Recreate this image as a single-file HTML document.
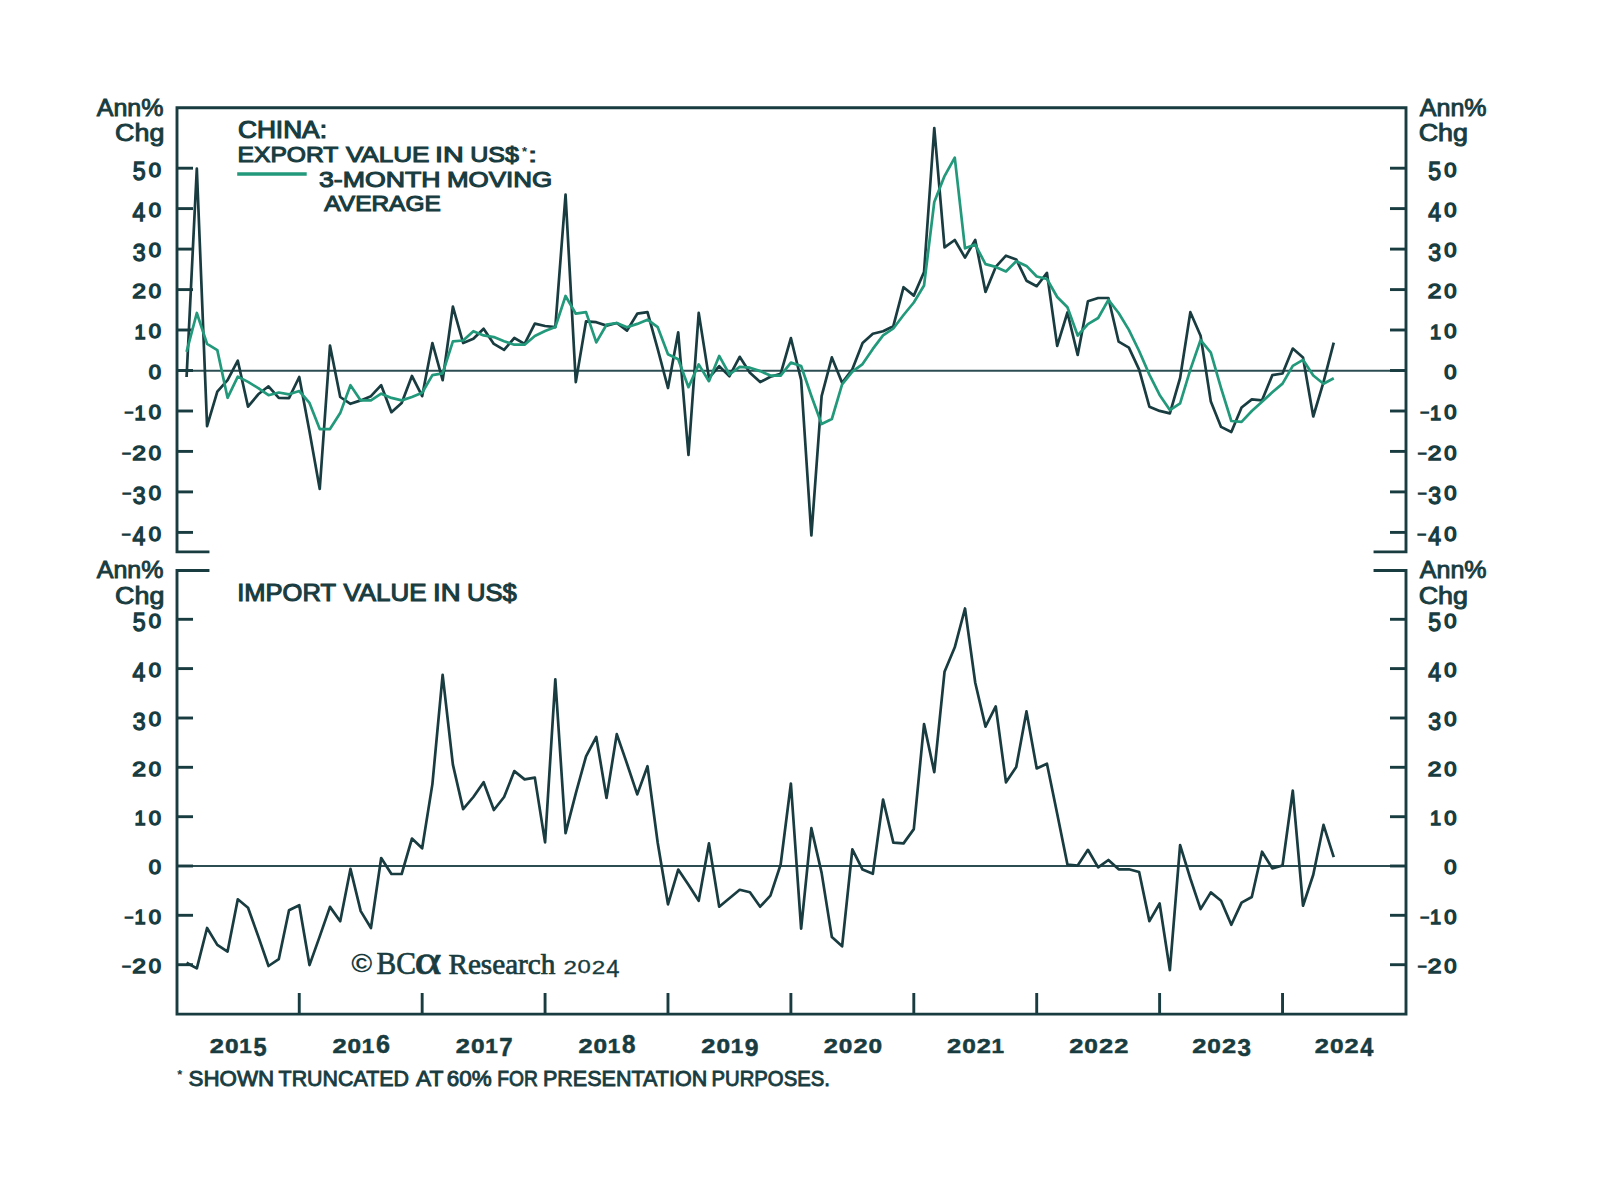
<!DOCTYPE html><html><head><meta charset="utf-8"><title>China: export and import value in US$</title>
<style>html,body{margin:0;padding:0;background:#fff;overflow:hidden;}svg{display:block;}text{font-family:"Liberation Sans",sans-serif;fill:#183c40;}.b{font-weight:bold;}.r{font-weight:normal;}.s{font-family:"Liberation Serif",serif;}.sb{font-family:"Liberation Serif",serif;font-weight:bold;}</style></head><body>
<svg width="1600" height="1188" viewBox="0 0 1600 1188">
<rect width="1600" height="1188" fill="#fff"/>
<g stroke="#2c4e52" stroke-width="2" fill="none">
<line x1="177.0" y1="370.8" x2="1406.0" y2="370.8"/>
<line x1="177.0" y1="866.0" x2="1406.0" y2="866.0"/>
</g>
<g stroke="#183c40" stroke-width="2.9" fill="none" stroke-linecap="square">
<polyline points="208.0,551.9 177.0,551.9 177.0,107.7 1406.0,107.7 1406.0,551.9 1375.0,551.9"/>
<polyline points="208.0,570.5 177.0,570.5 177.0,1014.1 1406.0,1014.1 1406.0,570.5 1375.0,570.5"/>
</g>
<g stroke="#183c40" stroke-width="2.9" fill="none">
<line x1="177.0" y1="168.2" x2="193.0" y2="168.2"/>
<line x1="1390.0" y1="168.2" x2="1406.0" y2="168.2"/>
<line x1="177.0" y1="208.6" x2="193.0" y2="208.6"/>
<line x1="1390.0" y1="208.6" x2="1406.0" y2="208.6"/>
<line x1="177.0" y1="249.1" x2="193.0" y2="249.1"/>
<line x1="1390.0" y1="249.1" x2="1406.0" y2="249.1"/>
<line x1="177.0" y1="289.6" x2="193.0" y2="289.6"/>
<line x1="1390.0" y1="289.6" x2="1406.0" y2="289.6"/>
<line x1="177.0" y1="330.0" x2="193.0" y2="330.0"/>
<line x1="1390.0" y1="330.0" x2="1406.0" y2="330.0"/>
<line x1="177.0" y1="370.5" x2="193.0" y2="370.5"/>
<line x1="1390.0" y1="370.5" x2="1406.0" y2="370.5"/>
<line x1="177.0" y1="411.0" x2="193.0" y2="411.0"/>
<line x1="1390.0" y1="411.0" x2="1406.0" y2="411.0"/>
<line x1="177.0" y1="451.4" x2="193.0" y2="451.4"/>
<line x1="1390.0" y1="451.4" x2="1406.0" y2="451.4"/>
<line x1="177.0" y1="491.9" x2="193.0" y2="491.9"/>
<line x1="1390.0" y1="491.9" x2="1406.0" y2="491.9"/>
<line x1="177.0" y1="532.4" x2="193.0" y2="532.4"/>
<line x1="1390.0" y1="532.4" x2="1406.0" y2="532.4"/>
<line x1="177.0" y1="619.3" x2="193.0" y2="619.3"/>
<line x1="1390.0" y1="619.3" x2="1406.0" y2="619.3"/>
<line x1="177.0" y1="668.6" x2="193.0" y2="668.6"/>
<line x1="1390.0" y1="668.6" x2="1406.0" y2="668.6"/>
<line x1="177.0" y1="718.0" x2="193.0" y2="718.0"/>
<line x1="1390.0" y1="718.0" x2="1406.0" y2="718.0"/>
<line x1="177.0" y1="767.3" x2="193.0" y2="767.3"/>
<line x1="1390.0" y1="767.3" x2="1406.0" y2="767.3"/>
<line x1="177.0" y1="816.7" x2="193.0" y2="816.7"/>
<line x1="1390.0" y1="816.7" x2="1406.0" y2="816.7"/>
<line x1="177.0" y1="866.0" x2="193.0" y2="866.0"/>
<line x1="1390.0" y1="866.0" x2="1406.0" y2="866.0"/>
<line x1="177.0" y1="915.3" x2="193.0" y2="915.3"/>
<line x1="1390.0" y1="915.3" x2="1406.0" y2="915.3"/>
<line x1="177.0" y1="964.7" x2="193.0" y2="964.7"/>
<line x1="1390.0" y1="964.7" x2="1406.0" y2="964.7"/>
<line x1="299.25" y1="993" x2="299.25" y2="1014.1"/>
<line x1="422.16" y1="993" x2="422.16" y2="1014.1"/>
<line x1="545.07" y1="993" x2="545.07" y2="1014.1"/>
<line x1="667.98" y1="993" x2="667.98" y2="1014.1"/>
<line x1="790.89" y1="993" x2="790.89" y2="1014.1"/>
<line x1="913.80" y1="993" x2="913.80" y2="1014.1"/>
<line x1="1036.71" y1="993" x2="1036.71" y2="1014.1"/>
<line x1="1159.62" y1="993" x2="1159.62" y2="1014.1"/>
<line x1="1282.53" y1="993" x2="1282.53" y2="1014.1"/>
</g>
<g fill="none" stroke-width="2.7" stroke-linejoin="round">
<polyline stroke="#183c40" points="186.58,377.0 196.82,168.5 207.07,426.1 217.31,391.6 227.55,380.2 237.80,360.7 248.04,406.7 258.28,394.3 268.52,386.3 278.76,397.8 289.01,398.2 299.25,377.0 309.49,431.6 319.74,489.0 329.98,345.6 340.22,397.0 350.46,403.8 360.71,400.4 370.95,396.2 381.19,385.2 391.43,412.2 401.67,402.9 411.92,375.9 422.16,396.2 432.40,343.0 442.64,380.2 452.89,306.7 463.13,343.0 473.37,338.8 483.62,328.7 493.86,343.9 504.10,349.8 514.34,338.0 524.59,343.9 534.83,323.6 545.07,326.0 555.31,327.1 565.55,194.5 575.80,382.1 586.04,321.3 596.28,322.2 606.52,325.6 616.77,323.0 627.01,330.6 637.25,313.7 647.50,312.1 657.74,349.2 667.98,388.0 678.22,332.3 688.47,455.0 698.71,312.9 708.95,377.9 719.19,366.1 729.44,376.2 739.68,356.8 749.92,372.8 760.16,382.1 770.40,376.8 780.65,373.9 790.89,338.1 801.13,380.0 811.38,535.5 821.62,396.2 831.86,357.4 842.10,382.7 852.35,369.2 862.59,343.0 872.83,333.7 883.07,331.2 893.32,326.2 903.56,287.2 913.80,295.6 924.04,272.0 934.28,128.0 944.53,247.4 954.77,240.0 965.01,257.6 975.25,240.0 985.50,291.9 995.74,266.9 1005.98,255.7 1016.23,259.4 1026.47,280.7 1036.71,286.2 1046.95,272.9 1057.19,345.9 1067.44,312.5 1077.68,355.0 1087.92,301.2 1098.16,298.0 1108.41,298.0 1118.65,341.7 1128.89,347.6 1139.13,369.6 1149.38,406.7 1159.62,410.9 1169.86,413.4 1180.11,378.0 1190.35,312.2 1200.59,335.8 1210.83,401.6 1221.07,426.9 1231.32,432.0 1241.56,407.5 1251.80,399.4 1262.04,400.3 1272.29,375.2 1282.53,373.5 1292.77,348.6 1303.01,357.5 1313.26,416.5 1323.50,382.1 1333.74,342.7"/>
<polyline stroke="#22997a" stroke-width="2.7" points="186.58,351.9 196.82,313.0 207.07,343.9 217.31,350.1 227.55,397.8 237.80,376.6 248.04,381.9 258.28,388.1 268.52,395.2 278.76,392.5 289.01,394.3 299.25,391.0 309.49,402.9 319.74,429.1 329.98,429.1 340.22,413.1 350.46,385.2 360.71,400.4 370.95,400.4 381.19,393.7 391.43,397.9 401.67,400.4 411.92,397.0 422.16,392.8 432.40,375.1 442.64,373.4 452.89,341.3 463.13,340.5 473.37,331.2 483.62,335.4 493.86,337.1 504.10,341.3 514.34,344.7 524.59,344.7 534.83,336.0 545.07,331.0 555.31,327.1 565.55,296.0 575.80,313.7 586.04,312.1 596.28,342.4 606.52,324.7 616.77,323.0 627.01,327.2 637.25,323.9 647.50,319.7 657.74,327.2 667.98,354.2 678.22,359.3 688.47,387.2 698.71,364.4 708.95,381.2 719.19,355.9 729.44,374.5 739.68,366.9 749.92,367.7 760.16,371.1 770.40,375.6 780.65,375.6 790.89,362.6 801.13,366.0 811.38,396.0 821.62,424.0 831.86,419.0 842.10,384.4 852.35,371.7 862.59,364.1 872.83,348.9 883.07,335.4 893.32,328.5 903.56,315.0 913.80,302.5 924.04,285.5 934.28,202.0 944.53,176.1 954.77,157.6 965.01,248.3 975.25,244.6 985.50,264.1 995.74,266.9 1005.98,271.5 1016.23,261.3 1026.47,265.9 1036.71,276.5 1046.95,279.0 1057.19,297.0 1067.44,307.3 1077.68,335.5 1087.92,324.1 1098.16,318.0 1108.41,299.8 1118.65,313.0 1128.89,329.9 1139.13,351.0 1149.38,374.6 1159.62,394.9 1169.86,410.1 1180.11,403.3 1190.35,369.6 1200.59,340.0 1210.83,352.7 1221.07,388.1 1231.32,421.0 1241.56,421.9 1251.80,411.0 1262.04,401.8 1272.29,392.3 1282.53,383.6 1292.77,365.9 1303.01,359.8 1313.26,375.5 1323.50,383.7 1333.74,378.2"/>
<polyline stroke="#183c40" points="186.58,962.7 196.82,968.4 207.07,928.0 217.31,944.9 227.55,951.6 237.80,899.3 248.04,907.7 258.28,936.4 268.52,966.0 278.76,959.2 289.01,910.3 299.25,905.2 309.49,965.1 319.74,936.4 329.98,906.9 340.22,921.2 350.46,868.9 360.71,911.1 370.95,928.0 381.19,858.0 391.43,874.0 401.67,874.0 411.92,838.6 422.16,848.3 432.40,784.1 442.64,674.8 452.89,764.6 463.13,809.1 473.37,797.0 483.62,782.2 493.86,810.0 504.10,797.0 514.34,771.1 524.59,779.4 534.83,777.6 545.07,842.4 555.31,679.4 565.55,833.1 575.80,793.3 586.04,756.3 596.28,736.9 606.52,798.0 616.77,734.1 627.01,763.7 637.25,794.4 647.50,766.2 657.74,843.0 667.98,904.3 678.22,869.6 688.47,884.7 698.71,900.8 708.95,843.4 719.19,906.7 729.44,898.2 739.68,889.8 749.92,892.3 760.16,906.7 770.40,895.7 780.65,864.5 790.89,783.5 801.13,928.6 811.38,828.2 821.62,872.9 831.86,937.1 842.10,946.3 852.35,849.3 862.59,869.6 872.83,873.8 883.07,799.5 893.32,842.6 903.56,843.4 913.80,829.1 924.04,724.1 934.28,772.2 944.53,671.8 954.77,647.3 965.01,608.5 975.25,682.7 985.50,726.6 995.74,706.4 1005.98,782.3 1016.23,767.1 1026.47,711.4 1036.71,768.5 1046.95,763.7 1057.19,813.7 1067.44,864.6 1077.68,865.6 1087.92,849.8 1098.16,867.4 1108.41,860.0 1118.65,869.3 1128.89,869.3 1139.13,872.0 1149.38,921.1 1159.62,903.5 1169.86,970.2 1180.11,845.2 1190.35,878.5 1200.59,909.1 1210.83,892.4 1221.07,900.7 1231.32,924.8 1241.56,902.6 1251.80,897.0 1262.04,851.7 1272.29,868.4 1282.53,865.5 1292.77,790.7 1303.01,905.7 1313.26,874.8 1323.50,824.9 1333.74,857.1"/>
</g>
<text class="r" x="132.72" y="180.05" font-size="25.00" textLength="12.88" lengthAdjust="spacingAndGlyphs" stroke="#183c40" stroke-width="1.3">5</text>
<text class="r" x="148.77" y="176.50" font-size="19.58" textLength="12.28" lengthAdjust="spacingAndGlyphs" stroke="#183c40" stroke-width="1.3">0</text>
<text class="r" x="1428.32" y="180.05" font-size="25.00" textLength="12.88" lengthAdjust="spacingAndGlyphs" stroke="#183c40" stroke-width="1.3">5</text>
<text class="r" x="1444.37" y="176.50" font-size="19.58" textLength="12.28" lengthAdjust="spacingAndGlyphs" stroke="#183c40" stroke-width="1.3">0</text>
<text class="r" x="132.59" y="220.77" font-size="25.36" textLength="12.78" lengthAdjust="spacingAndGlyphs" stroke="#183c40" stroke-width="1.3">4</text>
<text class="r" x="148.77" y="216.97" font-size="19.58" textLength="12.28" lengthAdjust="spacingAndGlyphs" stroke="#183c40" stroke-width="1.3">0</text>
<text class="r" x="1428.19" y="220.77" font-size="25.36" textLength="12.78" lengthAdjust="spacingAndGlyphs" stroke="#183c40" stroke-width="1.3">4</text>
<text class="r" x="1444.37" y="216.97" font-size="19.58" textLength="12.28" lengthAdjust="spacingAndGlyphs" stroke="#183c40" stroke-width="1.3">0</text>
<text class="r" x="132.72" y="260.99" font-size="24.65" textLength="12.88" lengthAdjust="spacingAndGlyphs" stroke="#183c40" stroke-width="1.3">3</text>
<text class="r" x="148.77" y="257.44" font-size="19.58" textLength="12.28" lengthAdjust="spacingAndGlyphs" stroke="#183c40" stroke-width="1.3">0</text>
<text class="r" x="1428.32" y="260.99" font-size="24.65" textLength="12.88" lengthAdjust="spacingAndGlyphs" stroke="#183c40" stroke-width="1.3">3</text>
<text class="r" x="1444.37" y="257.44" font-size="19.58" textLength="12.28" lengthAdjust="spacingAndGlyphs" stroke="#183c40" stroke-width="1.3">0</text>
<text class="r" x="132.22" y="298.11" font-size="19.86" textLength="13.69" lengthAdjust="spacingAndGlyphs" stroke="#183c40" stroke-width="1.3">2</text>
<text class="r" x="148.77" y="297.91" font-size="19.58" textLength="12.28" lengthAdjust="spacingAndGlyphs" stroke="#183c40" stroke-width="1.3">0</text>
<text class="r" x="1427.82" y="298.11" font-size="19.86" textLength="13.69" lengthAdjust="spacingAndGlyphs" stroke="#183c40" stroke-width="1.3">2</text>
<text class="r" x="1444.37" y="297.91" font-size="19.58" textLength="12.28" lengthAdjust="spacingAndGlyphs" stroke="#183c40" stroke-width="1.3">0</text>
<text class="r" x="134.45" y="338.58" font-size="20.14" textLength="11.12" lengthAdjust="spacingAndGlyphs" stroke="#183c40" stroke-width="1.3">1</text>
<text class="r" x="148.77" y="338.38" font-size="19.58" textLength="12.28" lengthAdjust="spacingAndGlyphs" stroke="#183c40" stroke-width="1.3">0</text>
<text class="r" x="1430.05" y="338.58" font-size="20.14" textLength="11.12" lengthAdjust="spacingAndGlyphs" stroke="#183c40" stroke-width="1.3">1</text>
<text class="r" x="1444.37" y="338.38" font-size="19.58" textLength="12.28" lengthAdjust="spacingAndGlyphs" stroke="#183c40" stroke-width="1.3">0</text>
<text class="r" x="148.77" y="378.85" font-size="19.58" textLength="12.28" lengthAdjust="spacingAndGlyphs" stroke="#183c40" stroke-width="1.3">0</text>
<text class="r" x="1444.37" y="378.85" font-size="19.58" textLength="12.28" lengthAdjust="spacingAndGlyphs" stroke="#183c40" stroke-width="1.3">0</text>
<text class="r" x="124.81" y="416.13" font-size="12.50" textLength="8.43" lengthAdjust="spacingAndGlyphs" stroke="#183c40" stroke-width="1.3">-</text>
<text class="r" x="134.45" y="419.52" font-size="20.14" textLength="11.12" lengthAdjust="spacingAndGlyphs" stroke="#183c40" stroke-width="1.3">1</text>
<text class="r" x="148.77" y="419.32" font-size="19.58" textLength="12.28" lengthAdjust="spacingAndGlyphs" stroke="#183c40" stroke-width="1.3">0</text>
<text class="r" x="1420.41" y="416.13" font-size="12.50" textLength="8.43" lengthAdjust="spacingAndGlyphs" stroke="#183c40" stroke-width="1.3">-</text>
<text class="r" x="1430.05" y="419.52" font-size="20.14" textLength="11.12" lengthAdjust="spacingAndGlyphs" stroke="#183c40" stroke-width="1.3">1</text>
<text class="r" x="1444.37" y="419.32" font-size="19.58" textLength="12.28" lengthAdjust="spacingAndGlyphs" stroke="#183c40" stroke-width="1.3">0</text>
<text class="r" x="122.31" y="456.60" font-size="12.50" textLength="8.43" lengthAdjust="spacingAndGlyphs" stroke="#183c40" stroke-width="1.3">-</text>
<text class="r" x="132.22" y="459.99" font-size="19.86" textLength="13.69" lengthAdjust="spacingAndGlyphs" stroke="#183c40" stroke-width="1.3">2</text>
<text class="r" x="148.77" y="459.79" font-size="19.58" textLength="12.28" lengthAdjust="spacingAndGlyphs" stroke="#183c40" stroke-width="1.3">0</text>
<text class="r" x="1417.91" y="456.60" font-size="12.50" textLength="8.43" lengthAdjust="spacingAndGlyphs" stroke="#183c40" stroke-width="1.3">-</text>
<text class="r" x="1427.82" y="459.99" font-size="19.86" textLength="13.69" lengthAdjust="spacingAndGlyphs" stroke="#183c40" stroke-width="1.3">2</text>
<text class="r" x="1444.37" y="459.79" font-size="19.58" textLength="12.28" lengthAdjust="spacingAndGlyphs" stroke="#183c40" stroke-width="1.3">0</text>
<text class="r" x="122.51" y="497.07" font-size="12.50" textLength="8.43" lengthAdjust="spacingAndGlyphs" stroke="#183c40" stroke-width="1.3">-</text>
<text class="r" x="132.72" y="503.81" font-size="24.65" textLength="12.88" lengthAdjust="spacingAndGlyphs" stroke="#183c40" stroke-width="1.3">3</text>
<text class="r" x="148.77" y="500.26" font-size="19.58" textLength="12.28" lengthAdjust="spacingAndGlyphs" stroke="#183c40" stroke-width="1.3">0</text>
<text class="r" x="1418.11" y="497.07" font-size="12.50" textLength="8.43" lengthAdjust="spacingAndGlyphs" stroke="#183c40" stroke-width="1.3">-</text>
<text class="r" x="1428.32" y="503.81" font-size="24.65" textLength="12.88" lengthAdjust="spacingAndGlyphs" stroke="#183c40" stroke-width="1.3">3</text>
<text class="r" x="1444.37" y="500.26" font-size="19.58" textLength="12.28" lengthAdjust="spacingAndGlyphs" stroke="#183c40" stroke-width="1.3">0</text>
<text class="r" x="121.91" y="537.54" font-size="12.50" textLength="8.43" lengthAdjust="spacingAndGlyphs" stroke="#183c40" stroke-width="1.3">-</text>
<text class="r" x="132.59" y="544.53" font-size="25.36" textLength="12.78" lengthAdjust="spacingAndGlyphs" stroke="#183c40" stroke-width="1.3">4</text>
<text class="r" x="148.77" y="540.73" font-size="19.58" textLength="12.28" lengthAdjust="spacingAndGlyphs" stroke="#183c40" stroke-width="1.3">0</text>
<text class="r" x="1417.51" y="537.54" font-size="12.50" textLength="8.43" lengthAdjust="spacingAndGlyphs" stroke="#183c40" stroke-width="1.3">-</text>
<text class="r" x="1428.19" y="544.53" font-size="25.36" textLength="12.78" lengthAdjust="spacingAndGlyphs" stroke="#183c40" stroke-width="1.3">4</text>
<text class="r" x="1444.37" y="540.73" font-size="19.58" textLength="12.28" lengthAdjust="spacingAndGlyphs" stroke="#183c40" stroke-width="1.3">0</text>
<text class="r" x="132.72" y="631.20" font-size="25.00" textLength="12.88" lengthAdjust="spacingAndGlyphs" stroke="#183c40" stroke-width="1.3">5</text>
<text class="r" x="148.77" y="627.65" font-size="19.58" textLength="12.28" lengthAdjust="spacingAndGlyphs" stroke="#183c40" stroke-width="1.3">0</text>
<text class="r" x="1428.32" y="631.20" font-size="25.00" textLength="12.88" lengthAdjust="spacingAndGlyphs" stroke="#183c40" stroke-width="1.3">5</text>
<text class="r" x="1444.37" y="627.65" font-size="19.58" textLength="12.28" lengthAdjust="spacingAndGlyphs" stroke="#183c40" stroke-width="1.3">0</text>
<text class="r" x="132.59" y="680.79" font-size="25.36" textLength="12.78" lengthAdjust="spacingAndGlyphs" stroke="#183c40" stroke-width="1.3">4</text>
<text class="r" x="148.77" y="676.99" font-size="19.58" textLength="12.28" lengthAdjust="spacingAndGlyphs" stroke="#183c40" stroke-width="1.3">0</text>
<text class="r" x="1428.19" y="680.79" font-size="25.36" textLength="12.78" lengthAdjust="spacingAndGlyphs" stroke="#183c40" stroke-width="1.3">4</text>
<text class="r" x="1444.37" y="676.99" font-size="19.58" textLength="12.28" lengthAdjust="spacingAndGlyphs" stroke="#183c40" stroke-width="1.3">0</text>
<text class="r" x="132.72" y="729.88" font-size="24.65" textLength="12.88" lengthAdjust="spacingAndGlyphs" stroke="#183c40" stroke-width="1.3">3</text>
<text class="r" x="148.77" y="726.33" font-size="19.58" textLength="12.28" lengthAdjust="spacingAndGlyphs" stroke="#183c40" stroke-width="1.3">0</text>
<text class="r" x="1428.32" y="729.88" font-size="24.65" textLength="12.88" lengthAdjust="spacingAndGlyphs" stroke="#183c40" stroke-width="1.3">3</text>
<text class="r" x="1444.37" y="726.33" font-size="19.58" textLength="12.28" lengthAdjust="spacingAndGlyphs" stroke="#183c40" stroke-width="1.3">0</text>
<text class="r" x="132.22" y="775.87" font-size="19.86" textLength="13.69" lengthAdjust="spacingAndGlyphs" stroke="#183c40" stroke-width="1.3">2</text>
<text class="r" x="148.77" y="775.67" font-size="19.58" textLength="12.28" lengthAdjust="spacingAndGlyphs" stroke="#183c40" stroke-width="1.3">0</text>
<text class="r" x="1427.82" y="775.87" font-size="19.86" textLength="13.69" lengthAdjust="spacingAndGlyphs" stroke="#183c40" stroke-width="1.3">2</text>
<text class="r" x="1444.37" y="775.67" font-size="19.58" textLength="12.28" lengthAdjust="spacingAndGlyphs" stroke="#183c40" stroke-width="1.3">0</text>
<text class="r" x="134.45" y="825.21" font-size="20.14" textLength="11.12" lengthAdjust="spacingAndGlyphs" stroke="#183c40" stroke-width="1.3">1</text>
<text class="r" x="148.77" y="825.01" font-size="19.58" textLength="12.28" lengthAdjust="spacingAndGlyphs" stroke="#183c40" stroke-width="1.3">0</text>
<text class="r" x="1430.05" y="825.21" font-size="20.14" textLength="11.12" lengthAdjust="spacingAndGlyphs" stroke="#183c40" stroke-width="1.3">1</text>
<text class="r" x="1444.37" y="825.01" font-size="19.58" textLength="12.28" lengthAdjust="spacingAndGlyphs" stroke="#183c40" stroke-width="1.3">0</text>
<text class="r" x="148.77" y="874.35" font-size="19.58" textLength="12.28" lengthAdjust="spacingAndGlyphs" stroke="#183c40" stroke-width="1.3">0</text>
<text class="r" x="1444.37" y="874.35" font-size="19.58" textLength="12.28" lengthAdjust="spacingAndGlyphs" stroke="#183c40" stroke-width="1.3">0</text>
<text class="r" x="124.81" y="920.50" font-size="12.50" textLength="8.43" lengthAdjust="spacingAndGlyphs" stroke="#183c40" stroke-width="1.3">-</text>
<text class="r" x="134.45" y="923.89" font-size="20.14" textLength="11.12" lengthAdjust="spacingAndGlyphs" stroke="#183c40" stroke-width="1.3">1</text>
<text class="r" x="148.77" y="923.69" font-size="19.58" textLength="12.28" lengthAdjust="spacingAndGlyphs" stroke="#183c40" stroke-width="1.3">0</text>
<text class="r" x="1420.41" y="920.50" font-size="12.50" textLength="8.43" lengthAdjust="spacingAndGlyphs" stroke="#183c40" stroke-width="1.3">-</text>
<text class="r" x="1430.05" y="923.89" font-size="20.14" textLength="11.12" lengthAdjust="spacingAndGlyphs" stroke="#183c40" stroke-width="1.3">1</text>
<text class="r" x="1444.37" y="923.69" font-size="19.58" textLength="12.28" lengthAdjust="spacingAndGlyphs" stroke="#183c40" stroke-width="1.3">0</text>
<text class="r" x="122.31" y="969.84" font-size="12.50" textLength="8.43" lengthAdjust="spacingAndGlyphs" stroke="#183c40" stroke-width="1.3">-</text>
<text class="r" x="132.22" y="973.23" font-size="19.86" textLength="13.69" lengthAdjust="spacingAndGlyphs" stroke="#183c40" stroke-width="1.3">2</text>
<text class="r" x="148.77" y="973.03" font-size="19.58" textLength="12.28" lengthAdjust="spacingAndGlyphs" stroke="#183c40" stroke-width="1.3">0</text>
<text class="r" x="1417.91" y="969.84" font-size="12.50" textLength="8.43" lengthAdjust="spacingAndGlyphs" stroke="#183c40" stroke-width="1.3">-</text>
<text class="r" x="1427.82" y="973.23" font-size="19.86" textLength="13.69" lengthAdjust="spacingAndGlyphs" stroke="#183c40" stroke-width="1.3">2</text>
<text class="r" x="1444.37" y="973.03" font-size="19.58" textLength="12.28" lengthAdjust="spacingAndGlyphs" stroke="#183c40" stroke-width="1.3">0</text>
<text class="r" x="96.70" y="115.55" font-size="23.74" textLength="66.79" lengthAdjust="spacingAndGlyphs" stroke="#183c40" stroke-width="0.9">Ann%</text>
<text class="r" x="115.11" y="140.85" font-size="23.17" textLength="49.28" lengthAdjust="spacingAndGlyphs" stroke="#183c40" stroke-width="0.9">Chg</text>
<text class="r" x="1419.75" y="115.55" font-size="23.74" textLength="66.84" lengthAdjust="spacingAndGlyphs" stroke="#183c40" stroke-width="0.9">Ann%</text>
<text class="r" x="1418.71" y="140.85" font-size="23.17" textLength="49.28" lengthAdjust="spacingAndGlyphs" stroke="#183c40" stroke-width="0.9">Chg</text>
<text class="r" x="96.70" y="578.25" font-size="23.74" textLength="66.79" lengthAdjust="spacingAndGlyphs" stroke="#183c40" stroke-width="0.9">Ann%</text>
<text class="r" x="115.11" y="603.55" font-size="23.17" textLength="49.28" lengthAdjust="spacingAndGlyphs" stroke="#183c40" stroke-width="0.9">Chg</text>
<text class="r" x="1419.75" y="578.25" font-size="23.74" textLength="66.84" lengthAdjust="spacingAndGlyphs" stroke="#183c40" stroke-width="0.9">Ann%</text>
<text class="r" x="1418.71" y="603.55" font-size="23.17" textLength="49.28" lengthAdjust="spacingAndGlyphs" stroke="#183c40" stroke-width="0.9">Chg</text>
<text class="r" x="237.94" y="138.35" font-size="23.14" textLength="88.99" lengthAdjust="spacingAndGlyphs" stroke="#183c40" stroke-width="1.1">CHINA:</text>
<text class="r" x="237.58" y="162.15" font-size="22.86" textLength="100.84" lengthAdjust="spacingAndGlyphs" stroke="#183c40" stroke-width="1.1">EXPORT</text>
<text class="r" x="345.92" y="162.15" font-size="22.86" textLength="83.58" lengthAdjust="spacingAndGlyphs" stroke="#183c40" stroke-width="1.1">VALUE</text>
<text class="r" x="434.96" y="162.15" font-size="22.86" textLength="28.80" lengthAdjust="spacingAndGlyphs" stroke="#183c40" stroke-width="1.1">IN</text>
<text class="r" x="470.17" y="162.15" font-size="22.86" textLength="48.66" lengthAdjust="spacingAndGlyphs" stroke="#183c40" stroke-width="1.1">US$</text>
<text class="b" x="522.0" y="156.2" font-size="13">*</text>
<text class="r" x="528.31" y="162.05" font-size="20.94" textLength="8.77" lengthAdjust="spacingAndGlyphs" stroke="#183c40" stroke-width="1.1">:</text>
<line x1="237.2" y1="174" x2="306.7" y2="174" stroke="#22997a" stroke-width="3.3"/>
<text class="r" x="318.98" y="187.15" font-size="22.86" textLength="121.61" lengthAdjust="spacingAndGlyphs" stroke="#183c40" stroke-width="1.1">3-MONTH</text>
<text class="r" x="446.97" y="187.15" font-size="22.86" textLength="105.31" lengthAdjust="spacingAndGlyphs" stroke="#183c40" stroke-width="1.1">MOVING</text>
<text class="r" x="324.35" y="211.45" font-size="22.14" textLength="116.40" lengthAdjust="spacingAndGlyphs" stroke="#183c40" stroke-width="1.1">AVERAGE</text>
<text class="r" x="237.25" y="600.85" font-size="24.43" textLength="98.72" lengthAdjust="spacingAndGlyphs" stroke="#183c40" stroke-width="1.1">IMPORT</text>
<text class="r" x="343.42" y="600.85" font-size="24.43" textLength="83.07" lengthAdjust="spacingAndGlyphs" stroke="#183c40" stroke-width="1.1">VALUE</text>
<text class="r" x="433.07" y="600.85" font-size="24.43" textLength="27.59" lengthAdjust="spacingAndGlyphs" stroke="#183c40" stroke-width="1.1">IN</text>
<text class="r" x="467.13" y="600.85" font-size="24.43" textLength="49.71" lengthAdjust="spacingAndGlyphs" stroke="#183c40" stroke-width="1.1">US$</text>
<text class="b" x="351.17" y="972.10" font-size="26.29" textLength="21.01" lengthAdjust="spacingAndGlyphs">©</text>
<text class="s" x="376.52" y="973.80" font-size="30.91" textLength="39.33" lengthAdjust="spacingAndGlyphs" stroke="#183c40" stroke-width="0.7">BC</text>
<text class="s" x="414.5" y="973.8" font-size="40" textLength="27" lengthAdjust="spacingAndGlyphs" stroke="#183c40" stroke-width="0.7">α</text>
<text class="s" x="448.42" y="973.60" font-size="29.06" textLength="107.00" lengthAdjust="spacingAndGlyphs" stroke="#183c40" stroke-width="0.7">Research</text>
<text class="r" x="563.59" y="973.50" font-size="18.43" textLength="13.45" lengthAdjust="spacingAndGlyphs" stroke="#183c40" stroke-width="0.3">2</text>
<text class="r" x="577.64" y="973.32" font-size="18.17" textLength="13.32" lengthAdjust="spacingAndGlyphs" stroke="#183c40" stroke-width="0.3">0</text>
<text class="r" x="591.69" y="973.50" font-size="18.43" textLength="13.45" lengthAdjust="spacingAndGlyphs" stroke="#183c40" stroke-width="0.3">2</text>
<text class="r" x="606.22" y="976.50" font-size="23.04" textLength="13.22" lengthAdjust="spacingAndGlyphs" stroke="#183c40" stroke-width="0.3">4</text>
<text class="b" x="209.81" y="1052.90" font-size="20.71" textLength="14.14" lengthAdjust="spacingAndGlyphs" stroke="#183c40" stroke-width="0.5">2</text>
<text class="b" x="224.92" y="1052.70" font-size="20.42" textLength="13.58" lengthAdjust="spacingAndGlyphs" stroke="#183c40" stroke-width="0.5">0</text>
<text class="b" x="239.15" y="1052.90" font-size="21.01" textLength="12.54" lengthAdjust="spacingAndGlyphs" stroke="#183c40" stroke-width="0.5">1</text>
<text class="b" x="253.39" y="1055.75" font-size="25.14" textLength="13.13" lengthAdjust="spacingAndGlyphs" stroke="#183c40" stroke-width="0.5">5</text>
<text class="b" x="332.52" y="1052.90" font-size="20.71" textLength="14.14" lengthAdjust="spacingAndGlyphs" stroke="#183c40" stroke-width="0.5">2</text>
<text class="b" x="347.63" y="1052.70" font-size="20.42" textLength="13.58" lengthAdjust="spacingAndGlyphs" stroke="#183c40" stroke-width="0.5">0</text>
<text class="b" x="361.86" y="1052.90" font-size="21.01" textLength="12.54" lengthAdjust="spacingAndGlyphs" stroke="#183c40" stroke-width="0.5">1</text>
<text class="b" x="375.93" y="1052.65" font-size="25.07" textLength="13.99" lengthAdjust="spacingAndGlyphs" stroke="#183c40" stroke-width="0.5">6</text>
<text class="b" x="455.83" y="1052.90" font-size="20.71" textLength="14.14" lengthAdjust="spacingAndGlyphs" stroke="#183c40" stroke-width="0.5">2</text>
<text class="b" x="470.94" y="1052.70" font-size="20.42" textLength="13.58" lengthAdjust="spacingAndGlyphs" stroke="#183c40" stroke-width="0.5">0</text>
<text class="b" x="485.17" y="1052.90" font-size="21.01" textLength="12.54" lengthAdjust="spacingAndGlyphs" stroke="#183c40" stroke-width="0.5">1</text>
<text class="b" x="499.16" y="1056.00" font-size="25.51" textLength="13.35" lengthAdjust="spacingAndGlyphs" stroke="#183c40" stroke-width="0.5">7</text>
<text class="b" x="578.44" y="1052.90" font-size="20.71" textLength="14.14" lengthAdjust="spacingAndGlyphs" stroke="#183c40" stroke-width="0.5">2</text>
<text class="b" x="593.55" y="1052.70" font-size="20.42" textLength="13.58" lengthAdjust="spacingAndGlyphs" stroke="#183c40" stroke-width="0.5">0</text>
<text class="b" x="607.78" y="1052.90" font-size="21.01" textLength="12.54" lengthAdjust="spacingAndGlyphs" stroke="#183c40" stroke-width="0.5">1</text>
<text class="b" x="622.00" y="1052.65" font-size="25.07" textLength="13.48" lengthAdjust="spacingAndGlyphs" stroke="#183c40" stroke-width="0.5">8</text>
<text class="b" x="701.35" y="1052.90" font-size="20.71" textLength="14.14" lengthAdjust="spacingAndGlyphs" stroke="#183c40" stroke-width="0.5">2</text>
<text class="b" x="716.46" y="1052.70" font-size="20.42" textLength="13.58" lengthAdjust="spacingAndGlyphs" stroke="#183c40" stroke-width="0.5">0</text>
<text class="b" x="730.69" y="1052.90" font-size="21.01" textLength="12.54" lengthAdjust="spacingAndGlyphs" stroke="#183c40" stroke-width="0.5">1</text>
<text class="b" x="744.77" y="1055.75" font-size="24.79" textLength="13.76" lengthAdjust="spacingAndGlyphs" stroke="#183c40" stroke-width="0.5">9</text>
<text class="b" x="823.66" y="1052.90" font-size="20.71" textLength="14.14" lengthAdjust="spacingAndGlyphs" stroke="#183c40" stroke-width="0.5">2</text>
<text class="b" x="838.77" y="1052.70" font-size="20.42" textLength="13.58" lengthAdjust="spacingAndGlyphs" stroke="#183c40" stroke-width="0.5">0</text>
<text class="b" x="853.46" y="1052.90" font-size="20.71" textLength="14.14" lengthAdjust="spacingAndGlyphs" stroke="#183c40" stroke-width="0.5">2</text>
<text class="b" x="868.57" y="1052.70" font-size="20.42" textLength="13.58" lengthAdjust="spacingAndGlyphs" stroke="#183c40" stroke-width="0.5">0</text>
<text class="b" x="947.07" y="1052.90" font-size="20.71" textLength="14.14" lengthAdjust="spacingAndGlyphs" stroke="#183c40" stroke-width="0.5">2</text>
<text class="b" x="962.18" y="1052.70" font-size="20.42" textLength="13.58" lengthAdjust="spacingAndGlyphs" stroke="#183c40" stroke-width="0.5">0</text>
<text class="b" x="976.87" y="1052.90" font-size="20.71" textLength="14.14" lengthAdjust="spacingAndGlyphs" stroke="#183c40" stroke-width="0.5">2</text>
<text class="b" x="991.61" y="1052.90" font-size="21.01" textLength="12.54" lengthAdjust="spacingAndGlyphs" stroke="#183c40" stroke-width="0.5">1</text>
<text class="b" x="1069.18" y="1052.90" font-size="20.71" textLength="14.14" lengthAdjust="spacingAndGlyphs" stroke="#183c40" stroke-width="0.5">2</text>
<text class="b" x="1084.29" y="1052.70" font-size="20.42" textLength="13.58" lengthAdjust="spacingAndGlyphs" stroke="#183c40" stroke-width="0.5">0</text>
<text class="b" x="1098.98" y="1052.90" font-size="20.71" textLength="14.14" lengthAdjust="spacingAndGlyphs" stroke="#183c40" stroke-width="0.5">2</text>
<text class="b" x="1114.18" y="1052.90" font-size="20.71" textLength="14.14" lengthAdjust="spacingAndGlyphs" stroke="#183c40" stroke-width="0.5">2</text>
<text class="b" x="1192.19" y="1052.90" font-size="20.71" textLength="14.14" lengthAdjust="spacingAndGlyphs" stroke="#183c40" stroke-width="0.5">2</text>
<text class="b" x="1207.30" y="1052.70" font-size="20.42" textLength="13.58" lengthAdjust="spacingAndGlyphs" stroke="#183c40" stroke-width="0.5">0</text>
<text class="b" x="1221.99" y="1052.90" font-size="20.71" textLength="14.14" lengthAdjust="spacingAndGlyphs" stroke="#183c40" stroke-width="0.5">2</text>
<text class="b" x="1237.47" y="1055.75" font-size="24.79" textLength="13.48" lengthAdjust="spacingAndGlyphs" stroke="#183c40" stroke-width="0.5">3</text>
<text class="b" x="1314.80" y="1052.90" font-size="20.71" textLength="14.14" lengthAdjust="spacingAndGlyphs" stroke="#183c40" stroke-width="0.5">2</text>
<text class="b" x="1329.91" y="1052.70" font-size="20.42" textLength="13.58" lengthAdjust="spacingAndGlyphs" stroke="#183c40" stroke-width="0.5">0</text>
<text class="b" x="1344.60" y="1052.90" font-size="20.71" textLength="14.14" lengthAdjust="spacingAndGlyphs" stroke="#183c40" stroke-width="0.5">2</text>
<text class="b" x="1360.34" y="1056.00" font-size="25.51" textLength="13.10" lengthAdjust="spacingAndGlyphs" stroke="#183c40" stroke-width="0.5">4</text>
<text class="b" x="177.3" y="1078.5" font-size="13">*</text>
<text class="r" x="188.59" y="1085.70" font-size="21.86" textLength="85.66" lengthAdjust="spacingAndGlyphs" stroke="#183c40" stroke-width="0.9">SHOWN</text>
<text class="r" x="278.57" y="1085.70" font-size="21.86" textLength="130.45" lengthAdjust="spacingAndGlyphs" stroke="#183c40" stroke-width="0.9">TRUNCATED</text>
<text class="r" x="416.00" y="1085.70" font-size="21.86" textLength="27.43" lengthAdjust="spacingAndGlyphs" stroke="#183c40" stroke-width="0.9">AT</text>
<text class="r" x="446.88" y="1085.70" font-size="21.86" textLength="44.94" lengthAdjust="spacingAndGlyphs" stroke="#183c40" stroke-width="0.9">60%</text>
<text class="r" x="497.26" y="1085.70" font-size="21.86" textLength="40.62" lengthAdjust="spacingAndGlyphs" stroke="#183c40" stroke-width="0.9">FOR</text>
<text class="r" x="542.98" y="1085.70" font-size="21.86" textLength="164.26" lengthAdjust="spacingAndGlyphs" stroke="#183c40" stroke-width="0.9">PRESENTATION</text>
<text class="r" x="711.48" y="1085.70" font-size="21.86" textLength="118.46" lengthAdjust="spacingAndGlyphs" stroke="#183c40" stroke-width="0.9">PURPOSES.</text>
</svg></body></html>
